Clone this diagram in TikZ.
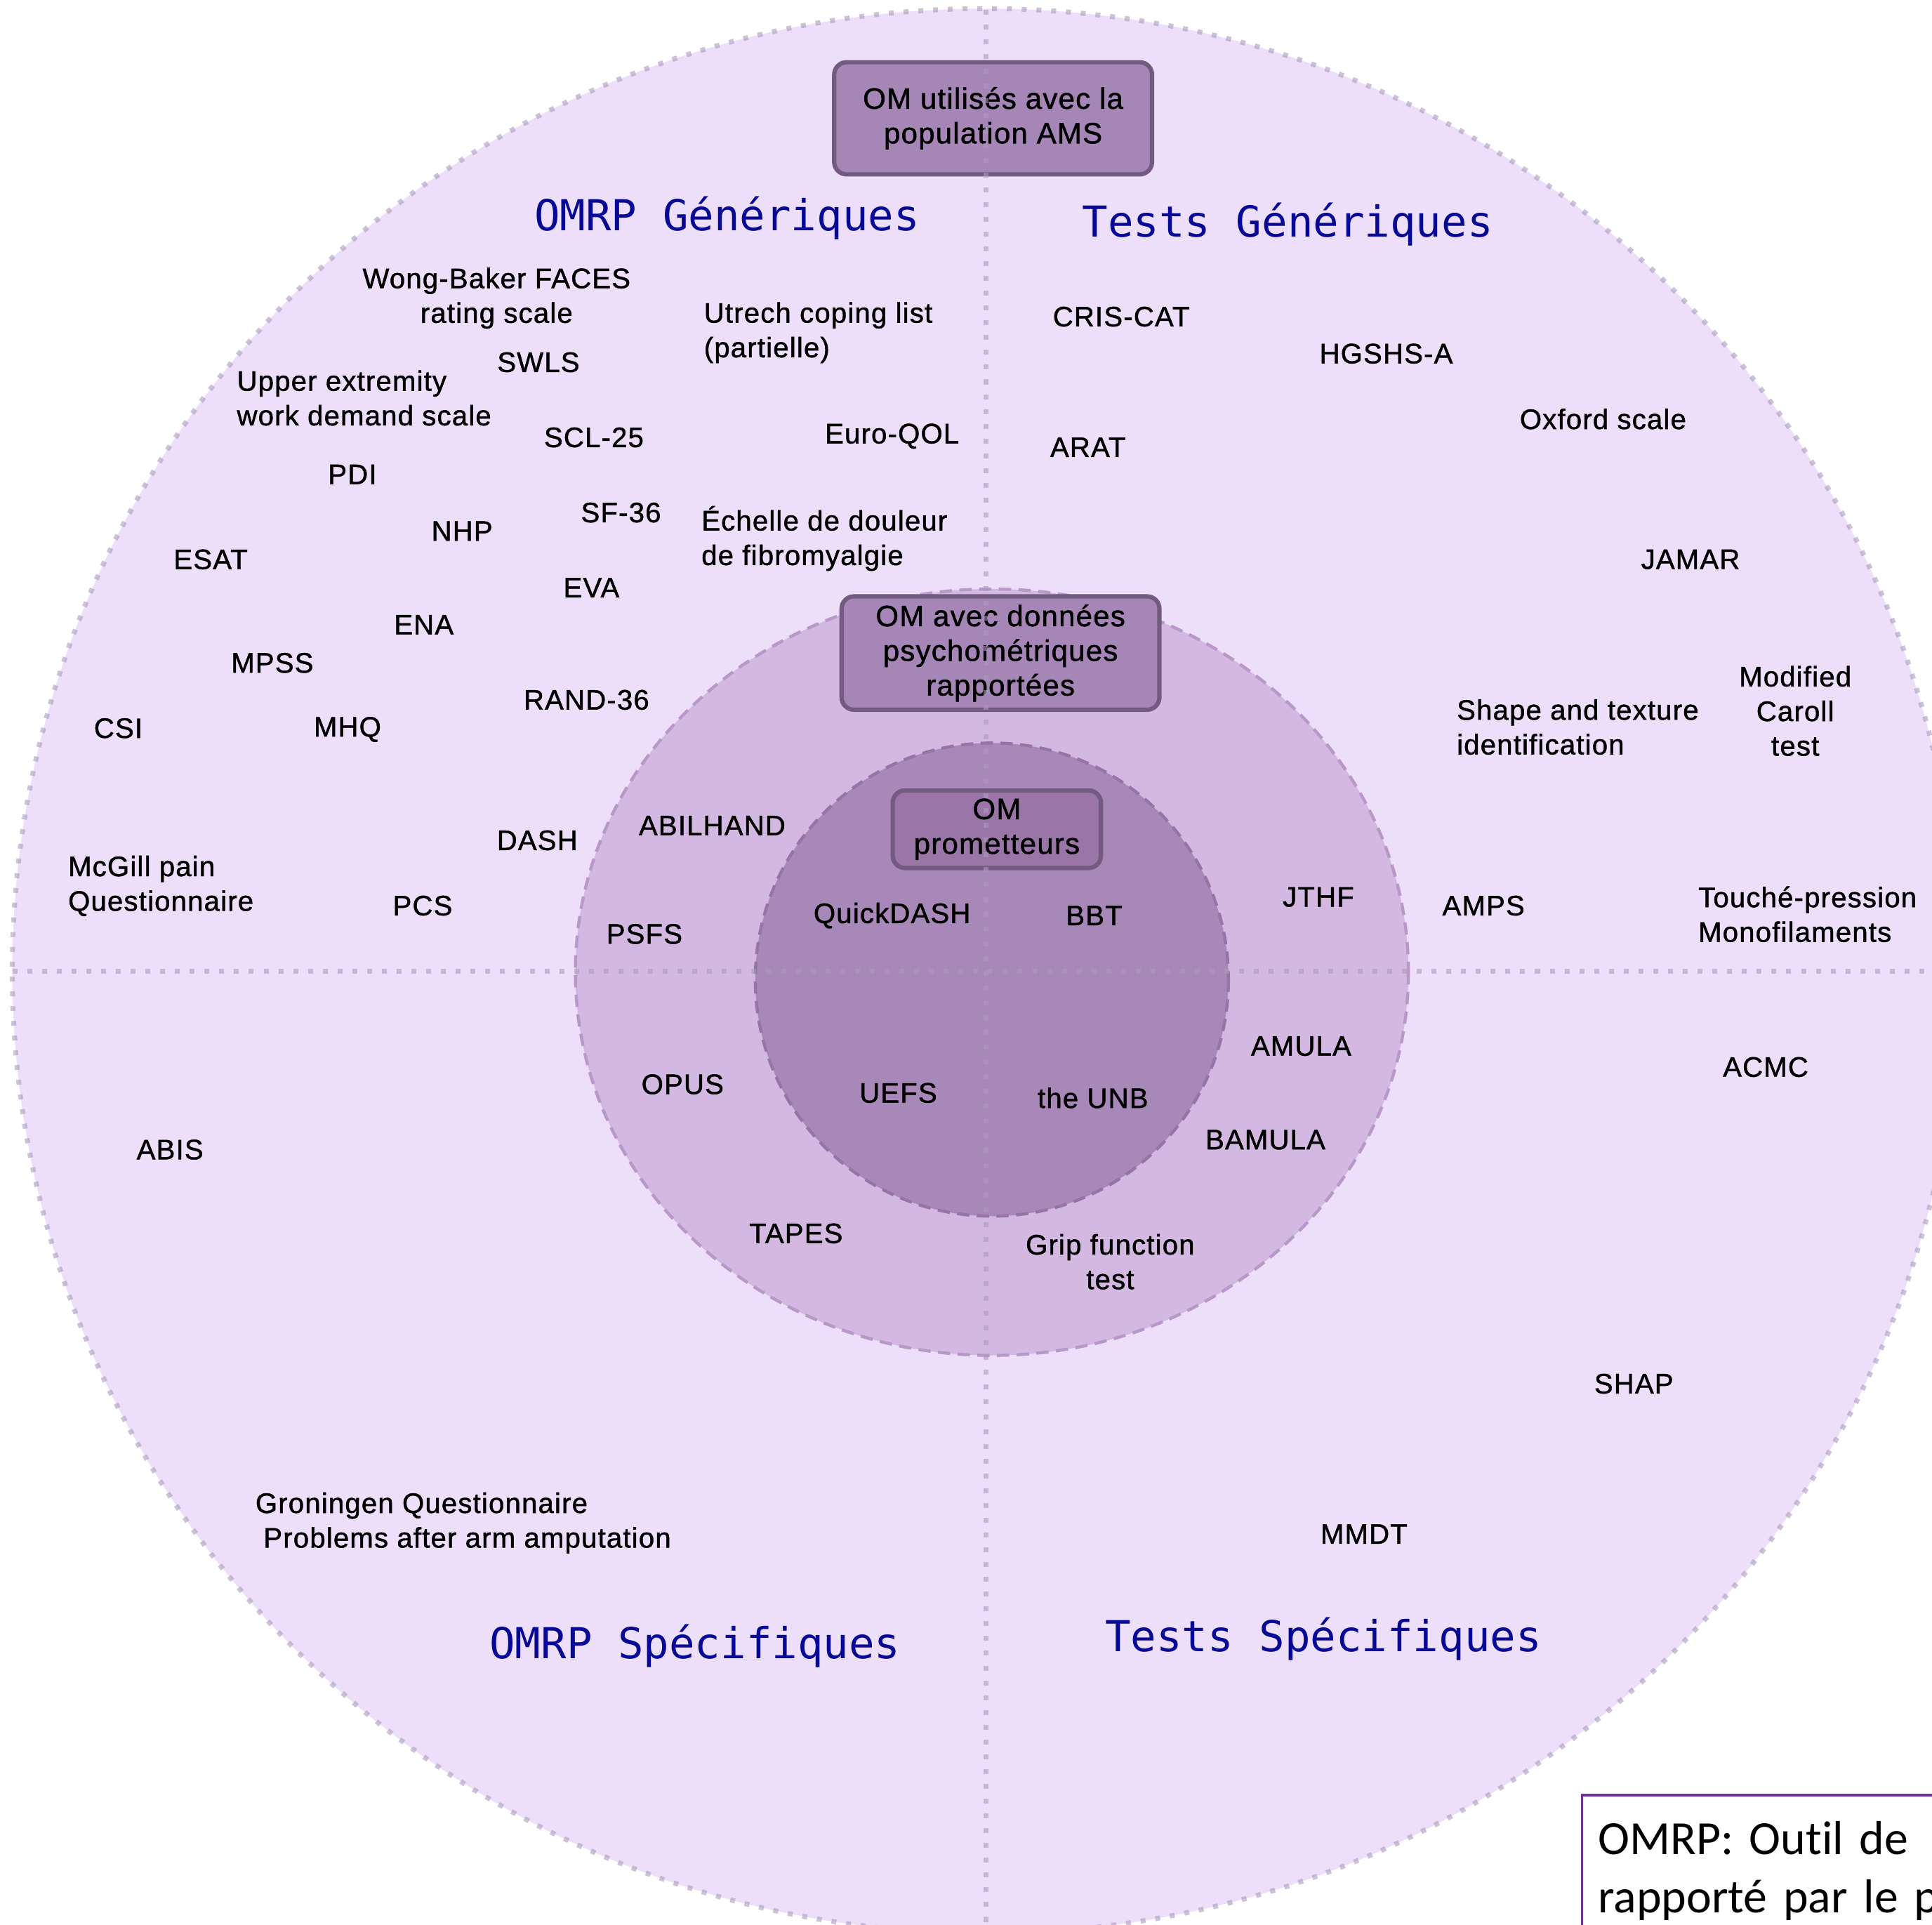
\documentclass[tikz,border=0pt]{standalone}
\usepackage{fontspec}
\setmainfont{Liberation Sans}[FakeBold=1.2, LetterSpace=3]
\newfontfamily\titlefont{DejaVu Sans Mono}
\newfontfamily\notefont{Carlito}[Ligatures=NoCommon]
\definecolor{outerfill}{RGB}{237,222,250}
\definecolor{midfill}{RGB}{211,185,225}
\definecolor{innerfill}{RGB}{168,136,184}
\definecolor{boxfill}{RGB}{166,134,182}
\definecolor{boxline}{RGB}{114,90,128}
\definecolor{innerbox}{RGB}{154,117,168}
\definecolor{dotline}{RGB}{172,155,187}
\definecolor{middash}{RGB}{184,152,200}
\definecolor{innerdash}{RGB}{150,116,168}
\definecolor{titleblue}{RGB}{8,8,150}
\definecolor{noteline}{RGB}{112,48,160}

\begin{document}
\begin{tikzpicture}[x=0.02cm, y=-0.02cm,
	lbl/.style={font=\fontsize{13}{16}\selectfont, align=center, inner sep=0pt},
	lbll/.style={lbl, align=left, anchor=west},
	quadtitle/.style={font=\titlefont\fontsize{19.7}{22}\selectfont, text=titleblue, inner sep=0pt},
	ombox/.style={draw=boxline, line width=2pt, fill=boxfill, rounded corners=0.2cm, align=center, font=\fontsize{13.6}{16}\selectfont, inner sep=0pt},
	sepline/.style={dotline, opacity=0.6, line width=0.08cm, dash pattern=on 0.08cm off 0.16cm}]
		%%%%% START %%%%%
		
		\useasboundingbox (0,0) rectangle (1568,1562);
		\clip (0,0) rectangle (1568,1562);
		
		% the three rings
		\fill[outerfill] (800,788) ellipse [x radius=790, y radius=781];
		\draw[sepline] (800,788) ellipse [x radius=790, y radius=781];
		\draw[fill=midfill, draw=middash, line width=0.05cm, dash pattern=on 0.2cm off 0.12cm] (805,789) ellipse [x radius=338, y radius=311];
		\draw[fill=innerfill, draw=innerdash, line width=0.05cm, dash pattern=on 0.2cm off 0.12cm] (805,795) circle [radius=192];
		
		% quadrant titles
		\node[quadtitle] (omrpgen) at (590,177) {OMRP Génériques};
		\node[quadtitle] (testgen) at (1045,182) {Tests Génériques};
		\node[quadtitle] (omrpspe) at (564,1336) {OMRP Spécifiques};
		\node[quadtitle] (testspe) at (1074,1330) {Tests Spécifiques};
		
		% boxes
		\node[ombox, minimum width=5.16cm, minimum height=1.82cm] (amsbox) at (806,96) {OM utilisés avec la\\population AMS};
		\node[ombox, minimum width=5.16cm, minimum height=1.84cm] (psybox) at (812,530) {OM avec données\\psychométriques\\rapportées};
		\node[ombox, fill=innerbox, minimum width=3.38cm, minimum height=1.26cm] (prombox) at (809,673) {OM\\prometteurs};
		
		% OMRP generiques
		\node[lbl] (wongbaker) at (403,242) {Wong-Baker FACES\\rating scale};
		\node[lbl] (swls) at (437,294) {SWLS};
		\node[lbll] (uewds) at (192,323) {Upper extremity\\work demand scale};
		\node[lbl] (scl) at (482,355) {SCL-25};
		\node[lbl] (pdi) at (286,385) {PDI};
		\node[lbl] (nhp) at (375,431) {NHP};
		\node[lbl] (sfs) at (504,416) {SF-36};
		\node[lbl] (esat) at (171,454) {ESAT};
		\node[lbl] (eva) at (480,477) {EVA};
		\node[lbl] (ena) at (344,507) {ENA};
		\node[lbl] (mpss) at (221,538) {MPSS};
		\node[lbl] (rand) at (476,568) {RAND-36};
		\node[lbl] (csi) at (96,591) {CSI};
		\node[lbl] (mhq) at (282,592) {MHQ};
		\node[lbl] (dash) at (436,682) {DASH};
		\node[lbll] (mcgill) at (55,719) {McGill pain\\Questionnaire};
		\node[lbl] (pcs) at (343,735) {PCS};
		\node[lbll] (utrech) at (571,270) {Utrech coping list\\(partielle)};
		\node[lbl] (euroqol) at (724,354) {Euro-QOL};
		\node[lbll] (fibro) at (569,437) {Échelle de douleur\\de fibromyalgie};
		
		% psychometrie
		\node[lbl] (abilhand) at (578,670) {ABILHAND};
		\node[lbl] (psfs) at (523,758) {PSFS};
		\node[lbl] (jthf) at (1070,728) {JTHF};
		\node[lbl] (amula) at (1056,849) {AMULA};
		\node[lbl] (opus) at (554,880) {OPUS};
		\node[lbl] (bamula) at (1027,925) {BAMULA};
		\node[lbl] (tapes) at (646,1001) {TAPES};
		\node[lbl] (grip) at (901,1024) {Grip function\\test};
		
		% prometteurs
		\node[lbl] (quickdash) at (724,743) {QuickDASH};
		\node[lbl] (bbt) at (888,743) {BBT};
		\node[lbl] (uefs) at (729,887) {UEFS};
		\node[lbl] (unb) at (887,891) {the UNB};
		
		% tests generiques
		\node[lbl] (cris) at (910,257) {CRIS-CAT};
		\node[lbl] (hgshs) at (1125,287) {HGSHS-A};
		\node[lbl] (arat) at (883,363) {ARAT};
		\node[lbl] (oxford) at (1301,340) {Oxford scale};
		\node[lbl] (jamar) at (1372,454) {JAMAR};
		\node[lbll] (shape) at (1182,590) {Shape and texture\\identification};
		\node[lbl] (caroll) at (1457,577) {Modified\\Caroll\\test};
		\node[lbl] (amps) at (1204,735) {AMPS};
		\node[lbll] (touche) at (1378,742) {Touché-pression\\Monofilaments};
		
		% specifiques
		\node[lbl] (acmc) at (1433,866) {ACMC};
		\node[lbl] (shap) at (1326,1123) {SHAP};
		\node[lbl] (mmdt) at (1107,1245) {MMDT};
		\node[lbl] (abis) at (138,933) {ABIS};
		\node[lbll] (groningen) at (207,1236) {Groningen Questionnaire\\\hspace{0.13cm}Problems after arm amputation};
		
		\draw[sepline] (800,8) -- (800,1562);
		\draw[sepline] (10,788) -- (1568,788);
		
		% note
		\node[draw=noteline, fill=white, line width=0.04cm, anchor=north west, align=left, inner xsep=0.26cm, inner ysep=0.42cm, text width=8cm, font=\notefont\fontsize{22}{27}\selectfont] (note) at (1283,1456) {OMRP: Outil de\\rapporté par le patient};
		
		%%%%% END %%%%%
	\end{tikzpicture}
\end{document}
